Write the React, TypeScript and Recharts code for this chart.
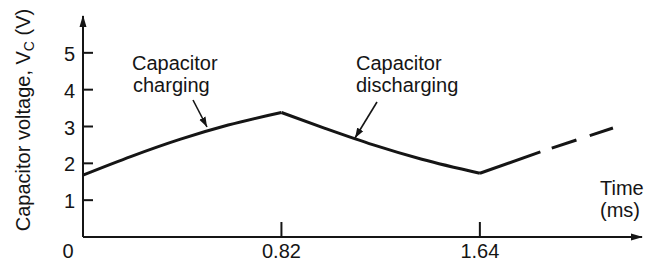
import React from 'react';
import { LineChart, Line, XAxis, YAxis } from 'recharts';

// Time (ms) and capacitor voltage (V) readings
const chargeTime = [0, 0.2, 0.4, 0.6, 0.82];
const chargeVolts = [1.68, 2.19, 2.65, 3.04, 3.38];
const dischargeTime = [0.82, 1.0, 1.2, 1.4, 1.64];
const dischargeVolts = [3.38, 2.95, 2.5, 2.11, 1.73];
const rechargeTime = [1.64, 1.89];
const rechargeVolts = [1.73, 2.31];
const continuationTime = [1.89, 2.19];
const continuationVolts = [2.31, 2.96];

const xTicks = [0, 0.82, 1.64];
const xTickLabels = ['0', '0.82', '1.64'];
const yTicks = [1, 2, 3, 4, 5];
const yTickLabels = ['1', '2', '3', '4', '5'];

const toRows = (ts: number[], vs: number[]) => ts.map((t, i) => ({ t, v: vs[i] }));
const chargeData = toRows(chargeTime, chargeVolts);
const dischargeData = toRows(dischargeTime, dischargeVolts);
const rechargeData = toRows(rechargeTime, rechargeVolts);
const continuationData = toRows(continuationTime, continuationVolts);

const FONT = '"Liberation Sans", Arial, Helvetica, sans-serif';
const INK = '#151515';

const XTick = (props: any) => {
  const { x, y, payload } = props;
  const idx = xTicks.indexOf(payload.value);
  const isZero = payload.value === 0;
  return (
    <g>
      {!isZero && <line x1={x} y1={y} x2={x} y2={y - 15} stroke={INK} strokeWidth={2} />}
      <text x={isZero ? x - 15 : x} y={y + 21} textAnchor="middle" fontFamily={FONT} fontSize={20} fill={INK}>
        {xTickLabels[idx]}
      </text>
    </g>
  );
};

const YTick = (props: any) => {
  const { x, y, payload } = props;
  const idx = yTicks.indexOf(payload.value);
  return (
    <g>
      <line x1={x} y1={y} x2={x + 10} y2={y} stroke={INK} strokeWidth={2} />
      <text x={x - 8} y={y + 8} textAnchor="end" fontFamily={FONT} fontSize={20} fill={INK}>
        {yTickLabels[idx]}
      </text>
    </g>
  );
};

export default function App() {
  return (
    <div style={{ position: 'absolute', left: 0, top: 0, width: 645, height: 264, background: '#fff' }}>
      <LineChart width={645} height={264} margin={{ top: 16, right: 3, bottom: 0, left: 0 }}>
        <defs>
          <marker id="axisArrow" markerWidth="12" markerHeight="10" refX="11" refY="5" orient="auto-start-reverse" markerUnits="userSpaceOnUse">
            <path d="M0,1.5 L12,5 L0,8.5 z" fill={INK} />
          </marker>
          <marker id="noteArrow" markerWidth="10" markerHeight="8" refX="10" refY="4" orient="auto" markerUnits="userSpaceOnUse">
            <path d="M0,0.5 L10,4 L0,7.5 z" fill={INK} />
          </marker>
        </defs>
        <XAxis
          dataKey="t"
          type="number"
          domain={[0, 2.31]}
          ticks={xTicks}
          allowDataOverflow
          height={27}
          tickSize={0}
          tickMargin={0}
          tickLine={false}
          tick={<XTick />}
          axisLine={{ stroke: INK, strokeWidth: 2, markerEnd: 'url(#axisArrow)' } as any}
        />
        <YAxis
          dataKey="v"
          type="number"
          domain={[0, 6]}
          ticks={yTicks}
          allowDataOverflow
          width={83}
          tickSize={0}
          tickMargin={0}
          tickLine={false}
          tick={<YTick />}
          axisLine={{ stroke: INK, strokeWidth: 2, markerStart: 'url(#axisArrow)' } as any}
        />
        <Line data={chargeData} dataKey="v" type="monotone" stroke={INK} strokeWidth={3} dot={false} activeDot={false} isAnimationActive={false} />
        <Line data={dischargeData} dataKey="v" type="monotone" stroke={INK} strokeWidth={3} dot={false} activeDot={false} isAnimationActive={false} />
        <Line data={rechargeData} dataKey="v" type="linear" stroke={INK} strokeWidth={3} dot={false} activeDot={false} isAnimationActive={false} />
        <Line data={continuationData} dataKey="v" type="linear" stroke={INK} strokeWidth={3} strokeDasharray="0 12 26 14 26" dot={false} activeDot={false} isAnimationActive={false} />

        {/* annotations */}
        <text fontFamily={FONT} fontSize={20} fill={INK}>
          <tspan x={132} y={70}>Capacitor</tspan>
          <tspan x={133} y={92}>charging</tspan>
        </text>
        <line x1={193} y1={100} x2={207} y2={127} stroke={INK} strokeWidth={1.6} markerEnd="url(#noteArrow)" />
        <text fontFamily={FONT} fontSize={20} fill={INK}>
          <tspan x={356} y={70}>Capacitor</tspan>
          <tspan x={356} y={92}>discharging</tspan>
        </text>
        <line x1={377} y1={102} x2={355} y2={138} stroke={INK} strokeWidth={1.6} markerEnd="url(#noteArrow)" />

        {/* axis titles */}
        <text fontFamily={FONT} fontSize={20} fill={INK}>
          <tspan x={600} y={195}>Time</tspan>
          <tspan x={600} y={217}>(ms)</tspan>
        </text>
        <text transform="translate(30,120) rotate(-90)" textAnchor="middle" fontFamily={FONT} fontSize={20} fill={INK}>
          Capacitor voltage, V
          <tspan fontSize={14} dy={4}>C</tspan>
          <tspan dy={-4}> (V)</tspan>
        </text>
      </LineChart>
    </div>
  );
}
